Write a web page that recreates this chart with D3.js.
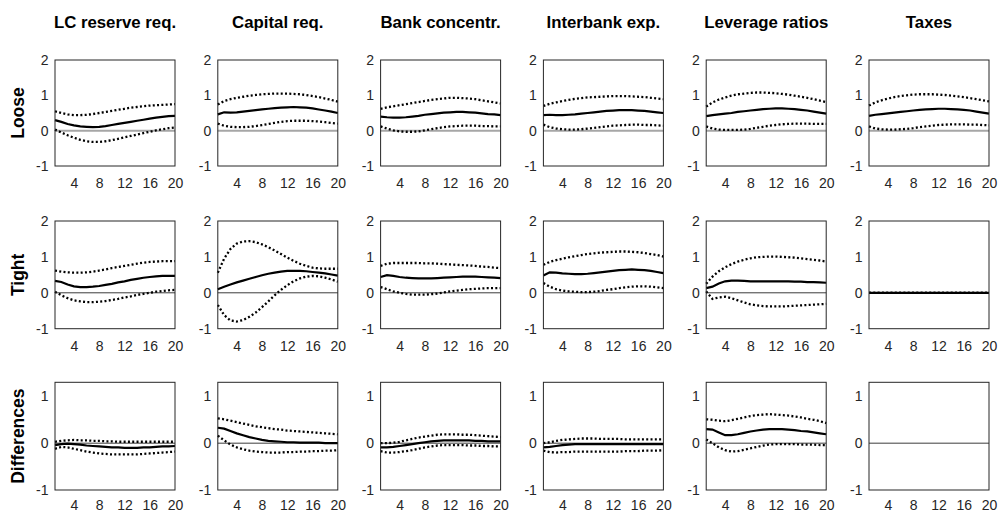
<!DOCTYPE html>
<html>
<head>
<meta charset="utf-8">
<script src="https://cdn.jsdelivr.net/npm/d3@7"></script>
<style>
  body { margin: 0; background: #fff; }
  svg { font-family: "Liberation Sans", Arial, Helvetica, sans-serif; }
</style>
</head>
<body>
<div id="chart"></div>
<script>
var policies = ["LC reserve req.", "Capital req.", "Bank concentr.", "Interbank exp.", "Leverage ratios", "Taxes"];
var regimes = ["Loose", "Tight", "Differences"];
var quarters = [1, 2, 3, 4, 5, 6, 7, 8, 9, 10, 11, 12, 13, 14, 15, 16, 17, 18, 19, 20];
var xTicks = [4, 8, 12, 16, 20];
var yTicksLevel = [-1, 0, 1, 2];
var yTicksDiff = [-1, 0, 1];

// one row per policy, in the order of `policies`
var looseMedian = [
  [0.30, 0.25, 0.19, 0.15, 0.12, 0.11, 0.10, 0.11, 0.13, 0.16, 0.19, 0.22, 0.25, 0.28, 0.31, 0.34, 0.37, 0.39, 0.41, 0.42],
  [0.46, 0.52, 0.51, 0.52, 0.54, 0.56, 0.58, 0.60, 0.62, 0.64, 0.65, 0.66, 0.67, 0.66, 0.65, 0.63, 0.60, 0.57, 0.54, 0.50],
  [0.40, 0.38, 0.37, 0.37, 0.38, 0.40, 0.42, 0.45, 0.47, 0.49, 0.51, 0.52, 0.53, 0.53, 0.52, 0.51, 0.49, 0.47, 0.46, 0.44],
  [0.44, 0.45, 0.44, 0.44, 0.45, 0.46, 0.48, 0.50, 0.52, 0.54, 0.56, 0.57, 0.58, 0.58, 0.58, 0.57, 0.56, 0.54, 0.52, 0.50],
  [0.41, 0.44, 0.46, 0.48, 0.50, 0.53, 0.55, 0.57, 0.59, 0.61, 0.62, 0.63, 0.63, 0.62, 0.61, 0.59, 0.57, 0.54, 0.51, 0.48],
  [0.42, 0.45, 0.47, 0.49, 0.51, 0.53, 0.55, 0.57, 0.59, 0.60, 0.61, 0.62, 0.62, 0.61, 0.60, 0.59, 0.57, 0.54, 0.51, 0.48]
];
var looseUpper = [
  [0.55, 0.50, 0.46, 0.44, 0.44, 0.45, 0.47, 0.50, 0.53, 0.56, 0.59, 0.62, 0.65, 0.67, 0.69, 0.71, 0.72, 0.73, 0.74, 0.75],
  [0.74, 0.84, 0.89, 0.93, 0.96, 0.99, 1.01, 1.03, 1.04, 1.05, 1.05, 1.05, 1.04, 1.03, 1.01, 0.98, 0.95, 0.91, 0.87, 0.82],
  [0.62, 0.66, 0.69, 0.72, 0.75, 0.78, 0.81, 0.84, 0.87, 0.89, 0.91, 0.93, 0.93, 0.92, 0.91, 0.89, 0.86, 0.83, 0.80, 0.77],
  [0.70, 0.76, 0.80, 0.84, 0.87, 0.90, 0.92, 0.94, 0.95, 0.96, 0.97, 0.98, 0.98, 0.98, 0.97, 0.96, 0.95, 0.93, 0.91, 0.89],
  [0.68, 0.80, 0.88, 0.94, 0.99, 1.03, 1.05, 1.07, 1.08, 1.08, 1.07, 1.06, 1.04, 1.02, 0.99, 0.96, 0.93, 0.89, 0.85, 0.81],
  [0.71, 0.80, 0.86, 0.91, 0.95, 0.98, 1.00, 1.02, 1.03, 1.03, 1.03, 1.02, 1.01, 0.99, 0.97, 0.95, 0.92, 0.89, 0.86, 0.83]
];
var looseLower = [
  [0.03, -0.05, -0.13, -0.20, -0.26, -0.30, -0.32, -0.32, -0.30, -0.27, -0.23, -0.19, -0.15, -0.11, -0.07, -0.03, 0.01, 0.04, 0.07, 0.09],
  [0.20, 0.14, 0.11, 0.10, 0.10, 0.11, 0.13, 0.16, 0.19, 0.22, 0.25, 0.27, 0.28, 0.28, 0.28, 0.27, 0.26, 0.24, 0.22, 0.20],
  [0.12, 0.06, 0.01, -0.02, -0.03, -0.03, -0.02, 0.01, 0.04, 0.07, 0.10, 0.12, 0.13, 0.14, 0.14, 0.14, 0.13, 0.13, 0.12, 0.12],
  [0.17, 0.10, 0.06, 0.04, 0.03, 0.03, 0.04, 0.06, 0.08, 0.10, 0.12, 0.14, 0.15, 0.16, 0.17, 0.17, 0.16, 0.16, 0.15, 0.14],
  [0.12, 0.06, 0.03, 0.02, 0.02, 0.02, 0.03, 0.05, 0.08, 0.11, 0.14, 0.16, 0.18, 0.19, 0.20, 0.20, 0.20, 0.19, 0.19, 0.19],
  [0.12, 0.06, 0.04, 0.03, 0.03, 0.04, 0.05, 0.07, 0.10, 0.12, 0.14, 0.16, 0.17, 0.18, 0.18, 0.18, 0.17, 0.17, 0.16, 0.15]
];

var tightMedian = [
  [0.33, 0.30, 0.23, 0.18, 0.16, 0.16, 0.17, 0.19, 0.22, 0.25, 0.29, 0.32, 0.36, 0.39, 0.42, 0.44, 0.46, 0.47, 0.47, 0.47],
  [0.10, 0.17, 0.23, 0.29, 0.34, 0.39, 0.44, 0.49, 0.53, 0.56, 0.59, 0.61, 0.61, 0.61, 0.60, 0.58, 0.56, 0.54, 0.51, 0.48],
  [0.44, 0.49, 0.47, 0.44, 0.42, 0.41, 0.40, 0.40, 0.40, 0.41, 0.42, 0.43, 0.44, 0.45, 0.45, 0.45, 0.44, 0.43, 0.42, 0.41],
  [0.48, 0.57, 0.56, 0.54, 0.53, 0.52, 0.52, 0.53, 0.55, 0.57, 0.59, 0.61, 0.63, 0.64, 0.65, 0.64, 0.63, 0.61, 0.58, 0.55],
  [0.13, 0.17, 0.26, 0.32, 0.34, 0.34, 0.33, 0.32, 0.32, 0.32, 0.32, 0.32, 0.32, 0.32, 0.31, 0.31, 0.30, 0.30, 0.29, 0.28],
  [0, 0, 0, 0, 0, 0, 0, 0, 0, 0, 0, 0, 0, 0, 0, 0, 0, 0, 0, 0]
];
var tightUpper = [
  [0.62, 0.59, 0.57, 0.56, 0.56, 0.57, 0.59, 0.62, 0.65, 0.69, 0.72, 0.75, 0.78, 0.81, 0.84, 0.86, 0.87, 0.88, 0.88, 0.88],
  [0.56, 0.95, 1.22, 1.37, 1.43, 1.44, 1.41, 1.35, 1.27, 1.18, 1.08, 0.98, 0.89, 0.81, 0.75, 0.70, 0.68, 0.67, 0.67, 0.67],
  [0.75, 0.81, 0.83, 0.83, 0.83, 0.83, 0.83, 0.82, 0.82, 0.81, 0.80, 0.79, 0.78, 0.77, 0.76, 0.75, 0.73, 0.72, 0.70, 0.69],
  [0.78, 0.86, 0.91, 0.95, 0.99, 1.02, 1.05, 1.08, 1.10, 1.12, 1.13, 1.14, 1.15, 1.15, 1.14, 1.13, 1.11, 1.08, 1.05, 1.01],
  [0.25, 0.45, 0.60, 0.71, 0.80, 0.87, 0.92, 0.96, 0.99, 1.00, 1.01, 1.01, 1.00, 0.99, 0.98, 0.96, 0.94, 0.92, 0.90, 0.87],
  [0, 0, 0, 0, 0, 0, 0, 0, 0, 0, 0, 0, 0, 0, 0, 0, 0, 0, 0, 0]
];
var tightLower = [
  [0.03, -0.07, -0.15, -0.21, -0.24, -0.26, -0.26, -0.25, -0.23, -0.20, -0.17, -0.13, -0.10, -0.06, -0.03, 0.00, 0.03, 0.05, 0.07, 0.08],
  [-0.34, -0.62, -0.77, -0.80, -0.76, -0.67, -0.55, -0.40, -0.24, -0.07, 0.08, 0.21, 0.32, 0.40, 0.45, 0.47, 0.46, 0.42, 0.37, 0.31],
  [0.16, 0.10, 0.04, 0.00, -0.03, -0.05, -0.05, -0.05, -0.04, -0.02, 0.01, 0.04, 0.06, 0.08, 0.10, 0.11, 0.12, 0.13, 0.13, 0.13],
  [0.27, 0.17, 0.10, 0.06, 0.04, 0.03, 0.02, 0.02, 0.03, 0.05, 0.08, 0.10, 0.13, 0.15, 0.17, 0.18, 0.18, 0.17, 0.15, 0.13],
  [0.04, -0.17, -0.13, -0.11, -0.15, -0.21, -0.27, -0.32, -0.35, -0.37, -0.38, -0.38, -0.38, -0.37, -0.36, -0.35, -0.34, -0.33, -0.32, -0.31],
  [0, 0, 0, 0, 0, 0, 0, 0, 0, 0, 0, 0, 0, 0, 0, 0, 0, 0, 0, 0]
];

// taxes have no difference series
var diffMedian = [
  [-0.04, -0.02, -0.01, -0.02, -0.03, -0.05, -0.06, -0.07, -0.08, -0.09, -0.09, -0.10, -0.10, -0.10, -0.09, -0.09, -0.08, -0.07, -0.07, -0.06],
  [0.33, 0.31, 0.26, 0.21, 0.17, 0.13, 0.10, 0.07, 0.05, 0.04, 0.03, 0.02, 0.02, 0.01, 0.01, 0.01, 0.01, 0.00, 0.00, 0.00],
  [-0.09, -0.09, -0.08, -0.06, -0.04, -0.02, 0.00, 0.02, 0.04, 0.05, 0.06, 0.06, 0.06, 0.06, 0.06, 0.05, 0.05, 0.04, 0.04, 0.04],
  [-0.09, -0.08, -0.06, -0.04, -0.03, -0.02, -0.02, -0.02, -0.02, -0.02, -0.02, -0.02, -0.02, -0.02, -0.02, -0.02, -0.02, -0.02, -0.02, -0.02],
  [0.30, 0.29, 0.23, 0.17, 0.17, 0.19, 0.22, 0.25, 0.27, 0.29, 0.30, 0.30, 0.30, 0.29, 0.28, 0.26, 0.25, 0.23, 0.21, 0.19],
  []
];
var diffUpper = [
  [0.03, 0.05, 0.06, 0.07, 0.06, 0.06, 0.05, 0.05, 0.04, 0.04, 0.03, 0.03, 0.03, 0.03, 0.03, 0.03, 0.03, 0.03, 0.03, 0.03],
  [0.53, 0.51, 0.48, 0.45, 0.42, 0.39, 0.36, 0.34, 0.32, 0.30, 0.29, 0.27, 0.26, 0.25, 0.24, 0.23, 0.22, 0.21, 0.20, 0.19],
  [0.00, 0.00, 0.01, 0.03, 0.06, 0.09, 0.12, 0.14, 0.16, 0.18, 0.19, 0.19, 0.19, 0.18, 0.18, 0.17, 0.16, 0.15, 0.14, 0.13],
  [0.00, 0.02, 0.05, 0.07, 0.08, 0.09, 0.10, 0.10, 0.10, 0.09, 0.09, 0.09, 0.09, 0.08, 0.08, 0.08, 0.08, 0.08, 0.08, 0.08],
  [0.51, 0.50, 0.48, 0.47, 0.49, 0.52, 0.55, 0.58, 0.60, 0.61, 0.62, 0.61, 0.60, 0.59, 0.57, 0.55, 0.52, 0.50, 0.47, 0.43],
  []
];
var diffLower = [
  [-0.12, -0.08, -0.09, -0.12, -0.15, -0.18, -0.20, -0.22, -0.23, -0.24, -0.24, -0.24, -0.24, -0.24, -0.23, -0.22, -0.21, -0.20, -0.19, -0.18],
  [0.16, 0.06, -0.03, -0.09, -0.13, -0.16, -0.18, -0.19, -0.20, -0.20, -0.20, -0.19, -0.19, -0.18, -0.18, -0.17, -0.17, -0.16, -0.16, -0.15],
  [-0.17, -0.20, -0.20, -0.19, -0.17, -0.15, -0.12, -0.09, -0.07, -0.05, -0.04, -0.04, -0.04, -0.04, -0.05, -0.05, -0.06, -0.06, -0.07, -0.07],
  [-0.16, -0.19, -0.20, -0.19, -0.19, -0.18, -0.18, -0.18, -0.18, -0.18, -0.18, -0.18, -0.18, -0.17, -0.17, -0.17, -0.16, -0.16, -0.16, -0.15],
  [0.08, 0.00, -0.09, -0.15, -0.18, -0.17, -0.14, -0.11, -0.08, -0.05, -0.03, -0.02, -0.02, -0.02, -0.02, -0.03, -0.03, -0.03, -0.04, -0.04],
  []
];

var rows = [
  {median: looseMedian, upper: looseUpper, lower: looseLower, domain: [-1, 2], ticks: yTicksLevel, zero: "#a6a6a6", zeroW: 2},
  {median: tightMedian, upper: tightUpper, lower: tightLower, domain: [-1, 2], ticks: yTicksLevel, zero: "#262626", zeroW: 0.9},
  {median: diffMedian, upper: diffUpper, lower: diffLower, domain: [-1, 1.3], ticks: yTicksDiff, zero: "#262626", zeroW: 0.9}
];

var width = 998, height = 513;
var panelW = 120, left0 = 55, stepX = 162.8;
var rowTop = [60, 221, 382.3],
    rowH = [106, 107.7, 107.7],
    labelDrop = [22.3, 22.3, 19.8]; // baseline of x labels below each row

var svg = d3.select("#chart").append("svg")
    .attr("width", width)
    .attr("height", height);

// column titles
svg.selectAll(".title")
    .data(policies)
    .enter().append("text")
    .attr("class", "title")
    .attr("x", function(d, i) { return left0 + i * stepX + panelW / 2; })
    .attr("y", 28.3)
    .attr("text-anchor", "middle")
    .attr("font-weight", "bold")
    .attr("font-size", 16.8)
    .attr("fill", "#000")
    .text(function(d) { return d; });

// row labels
svg.selectAll(".rowlab")
    .data(regimes)
    .enter().append("text")
    .attr("class", "rowlab")
    .attr("transform", function(d, r) {
        return "translate(24," + (rowTop[r] + rowH[r] / 2) + ")rotate(-90)";
    })
    .attr("text-anchor", "middle")
    .attr("font-weight", "bold")
    .attr("font-size", 17.5)
    .text(function(d) { return d; });

var x = d3.scaleLinear().domain([1, 20]).range([0, panelW]);

rows.forEach(function(row, r) {
    var y = d3.scaleLinear().domain(row.domain).range([rowH[r], 0]);

    var line = d3.line()
        .x(function(d, i) { return x(quarters[i]); })
        .y(function(d) { return y(d); });

    policies.forEach(function(p, c) {
        var g = svg.append("g")
            .attr("transform", "translate(" + (left0 + c * stepX) + "," + rowTop[r] + ")");

        g.append("line")
            .attr("x1", 0).attr("x2", panelW)
            .attr("y1", y(0)).attr("y2", y(0))
            .attr("stroke", row.zero)
            .attr("stroke-width", row.zeroW);

        [row.upper[c], row.lower[c]].forEach(function(s) {
            g.append("path")
                .datum(s)
                .attr("fill", "none")
                .attr("stroke", "#000")
                .attr("stroke-width", 2.3)
                .attr("stroke-dasharray", "2,2.3")
                .attr("d", line);
        });

        g.append("path")
            .datum(row.median[c])
            .attr("fill", "none")
            .attr("stroke", "#000")
            .attr("stroke-width", 2.2)
            .attr("d", line);

        g.append("rect")
            .attr("width", panelW)
            .attr("height", rowH[r])
            .attr("fill", "none")
            .attr("stroke", "#262626")
            .attr("stroke-width", 1);

        var xAxis = g.append("g")
            .attr("transform", "translate(0," + rowH[r] + ")")
            .call(d3.axisBottom(x).tickValues(xTicks).tickSize(0));
        xAxis.selectAll("text")
            .attr("dy", null)
            .attr("y", labelDrop[r]);

        var yAxis = g.append("g")
            .call(d3.axisLeft(y).tickValues(row.ticks).tickSize(0).tickPadding(6.5)
                .tickFormat(function(d) { return String(d); }));

        [xAxis, yAxis].forEach(function(a) {
            a.attr("font-family", null);
            a.select(".domain").remove();
            a.selectAll("text")
                .attr("font-size", 14)
                .attr("fill", "#262626");
        });
    });
});
</script>
</body>
</html>
